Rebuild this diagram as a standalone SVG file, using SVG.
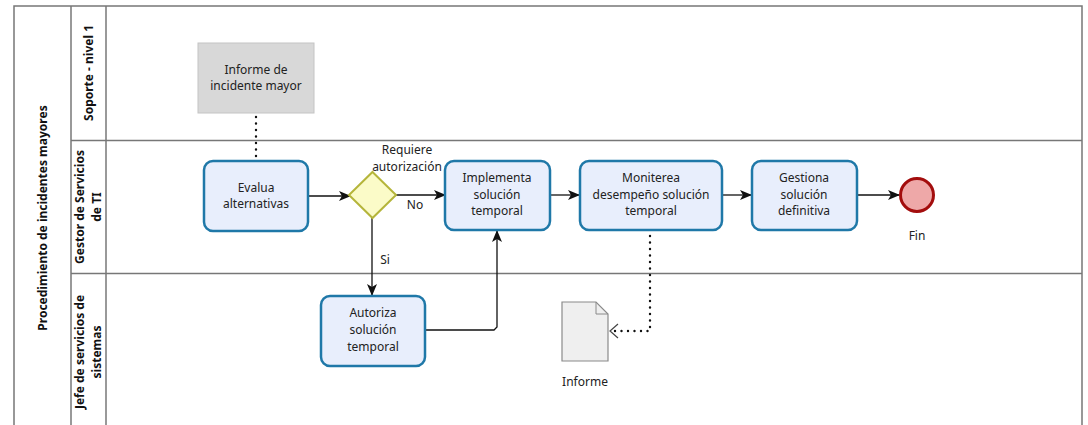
<svg xmlns="http://www.w3.org/2000/svg" width="1088" height="425" viewBox="0 0 1088 425">
<defs>
<style>
.t{font-family:"Noto Sans","Open Sans",sans-serif;font-size:12px;fill:#222;text-anchor:middle}
.h{font-family:"Noto Sans","Open Sans",sans-serif;font-size:12px;font-weight:bold;fill:#111;text-anchor:middle}
.task{fill:#e8eefc;stroke:#1f78a8;stroke-width:2.5}
.ln{stroke:#777;stroke-width:1.5;fill:none}
.flow{stroke:#111;stroke-width:1.3;fill:none}
.dot{stroke:#111;stroke-width:2.4;fill:none;stroke-dasharray:0 6.5;stroke-linecap:round}
</style>
<marker id="ah" viewBox="0 0 12 10" refX="11" refY="5" markerWidth="12" markerHeight="10" markerUnits="userSpaceOnUse" orient="auto">
<path d="M0,0 L12,5 L0,10 L3,5 Z" fill="#111"/>
</marker>
</defs>
<rect width="1088" height="425" fill="#fff"/>
<g id="pool">
<path class="ln" d="M14,430 V6 H1082 V430"/>
<line class="ln" x1="71" y1="6" x2="71" y2="430"/>
<line class="ln" x1="106" y1="6" x2="106" y2="430"/>
<line class="ln" x1="71" y1="140.5" x2="1082" y2="140.5"/>
<line class="ln" x1="71" y1="273.5" x2="1082" y2="273.5"/>
<text class="h" transform="translate(47,218) rotate(-90)">Procedimiento de incidentes mayores</text>
<text class="h" transform="translate(93,73) rotate(-90)">Soporte - nivel 1</text>
<text class="h" transform="translate(84,207) rotate(-90)"><tspan x="0">Gestor de Servicios</tspan><tspan x="0" dy="17">de TI</tspan></text>
<text class="h" transform="translate(84,352) rotate(-90)"><tspan x="0">Jefe de servicios de</tspan><tspan x="0" dy="17">sistemas</tspan></text>
</g>
<g id="connectors">
<path class="dot" d="M256,117 V160"/>
<path class="flow" d="M308,196 H350" marker-end="url(#ah)"/>
<path class="flow" d="M396,195 H445" marker-end="url(#ah)"/>
<path class="flow" d="M372,218 V295" marker-end="url(#ah)"/>
<path class="flow" d="M425,330 H494 L497,327 V231" marker-end="url(#ah)"/>
<path class="flow" d="M550,195 H579" marker-end="url(#ah)"/>
<path class="flow" d="M722,195 H751" marker-end="url(#ah)"/>
<path class="flow" d="M857,195 H899" marker-end="url(#ah)"/>
<path class="dot" d="M650,236 V331 H614"/>
<path d="M618,324 L610,331 L618,338" fill="none" stroke="#444" stroke-width="1.2"/>
<text class="t" x="407" y="154">Requiere</text>
<text class="t" x="407" y="171">autorización</text>
<text class="t" x="415" y="209">No</text>
<text class="t" x="385" y="264">Si</text>
</g>
<g id="informe-incidente">
<rect x="198" y="43" width="116" height="70" fill="#d8d8d8" stroke="#c4c4c4" stroke-width="1"/>
<text class="t" x="256" y="74">Informe de</text>
<text class="t" x="256" y="90">incidente mayor</text>
</g>
<g id="evalua">
<rect class="task" x="204" y="161" width="104" height="70" rx="9"/>
<text class="t" x="256" y="192">Evalua</text>
<text class="t" x="256" y="208">alternativas</text>
</g>
<g id="gateway">
<path d="M372.5,172 L396,195 L372.5,218 L349,195 Z" fill="#fbfbc8" stroke="#b5b53a" stroke-width="2"/>
</g>
<g id="implementa">
<rect class="task" x="445" y="161" width="105" height="69" rx="9"/>
<text class="t" x="497" y="182">Implementa</text>
<text class="t" x="497" y="199">solución</text>
<text class="t" x="497" y="215">temporal</text>
</g>
<g id="moniterea">
<rect class="task" x="580" y="161" width="142" height="69" rx="9"/>
<text class="t" x="651" y="182">Moniterea</text>
<text class="t" x="651" y="199">desempeño solución</text>
<text class="t" x="651" y="215">temporal</text>
</g>
<g id="gestiona">
<rect class="task" x="752" y="161" width="105" height="69" rx="9"/>
<text class="t" x="804" y="182">Gestiona</text>
<text class="t" x="804" y="199">solución</text>
<text class="t" x="804" y="215">definitiva</text>
</g>
<g id="fin">
<circle cx="917" cy="195" r="16.5" fill="#eea8a8" stroke="#a30d0d" stroke-width="3"/>
<text class="t" x="917" y="240">Fin</text>
</g>
<g id="autoriza">
<rect class="task" x="321" y="296" width="104" height="70" rx="9"/>
<text class="t" x="373" y="317">Autoriza</text>
<text class="t" x="373" y="334">solución</text>
<text class="t" x="373" y="351">temporal</text>
</g>
<g id="informe">
<path d="M562,302 H596 L608,314 V361 H562 Z" fill="#efefef" stroke="#8a8a8a" stroke-width="1.2"/>
<path d="M596,302 V314 H608" fill="none" stroke="#8a8a8a" stroke-width="1"/>
<text class="t" x="585" y="386">Informe</text>
</g>
</svg>
